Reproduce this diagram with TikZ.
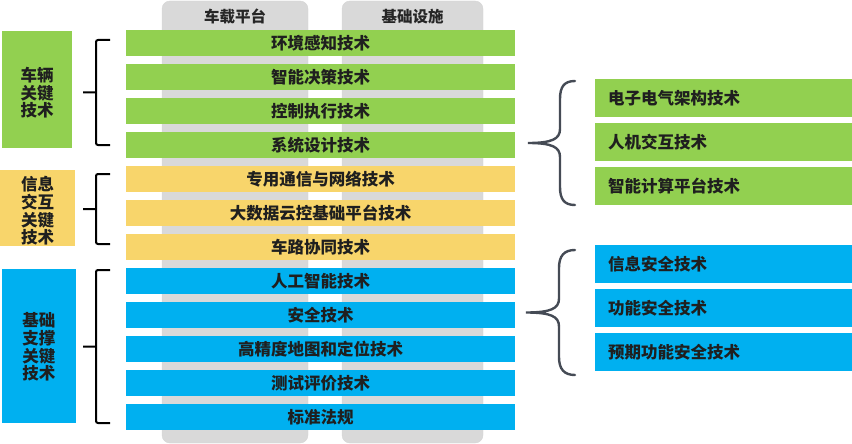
\documentclass[tikz,border=0pt]{standalone}
\usepackage{fontspec}
\setmainfont{Noto Sans CJK SC}
\definecolor{barGreen}{HTML}{92D050}
\definecolor{barYellow}{HTML}{F8D56B}
\definecolor{barBlue}{HTML}{00B0F0}
\definecolor{colGray}{HTML}{D9D9D9}
\definecolor{braceGray}{HTML}{454B55}
\tikzset{
  bar/.style={minimum width=389pt,minimum height=26pt,inner sep=0pt,text=black!88,font=\bfseries\fontsize{16.5}{17}\selectfont},
  sidebox/.style={inner sep=0pt,align=center,text=black!88,font=\bfseries\fontsize{16.5}{17.6}\selectfont},
  rbox/.style={anchor=west,minimum height=38pt,inner xsep=13pt,inner ysep=0pt,text width=231pt,align=left,text=black!88,font=\bfseries\fontsize{16.5}{17}\selectfont},
  head/.style={text=black!85,font=\bfseries\fontsize{15.5}{16}\selectfont}
}
\begin{document}
\begin{tikzpicture}[x=1pt,y=-1pt]
		\useasboundingbox (0,0) rectangle (852,444);
		% columns
		\draw[colGray!85!black!60,fill=colGray,rounded corners=8pt] (162,1) rectangle (308,443);
		\draw[colGray!85!black!60,fill=colGray,rounded corners=8pt] (342,1) rectangle (483,443);
		\node[head] (hvehicle) at (235,17) {车载平台};
		\node[head] (hinfra) at (412.5,17) {基础设施};
		% middle bars
		\foreach \lbl [count=\i] in {环境感知技术,智能决策技术,控制执行技术,系统设计技术}
		  \node[bar,fill=barGreen] (m\i) at (320.5,{43.5+33.95*(\i-1)}) {\lbl};
		\foreach \lbl [count=\i from 5] in {专用通信与网络技术,大数据云控基础平台技术,车路协同技术}
		  \node[bar,fill=barYellow] (m\i) at (320.5,{43.5+33.95*(\i-1)}) {\lbl};
		\foreach \lbl [count=\i from 8] in {人工智能技术,安全技术,高精度地图和定位技术,测试评价技术,标准法规}
		  \node[bar,fill=barBlue] (m\i) at (320.5,{43.5+33.95*(\i-1)}) {\lbl};
		% left groups
		\fill[barGreen] (2,31) rectangle (72,148);
		\node[sidebox] (gvehicle) at (37,93) {车辆\\关键\\技术};
		\fill[barYellow] (0,170) rectangle (75,246);
		\node[sidebox] (ginfo) at (37.5,211) {信息\\交互\\关键\\技术};
		\fill[barBlue] (2,269) rectangle (76,423);
		\node[sidebox] (gbase) at (39,347) {基础\\支撑\\关键\\技术};
		\foreach \t/\b in {40/145,174/244,270/423}
		  \draw[line width=2pt,rounded corners=2pt] (110,\t)--(96,\t)--(96,\b)--(110,\b) (83,{(\t+\b)/2})--(96,{(\t+\b)/2});
		% right groups
		\foreach \lbl [count=\i] in {电子电气架构技术,人机交互技术,智能计算平台技术}
		  \node[rbox,fill=barGreen] (r\i) at (595,{98+44*(\i-1)}) {\lbl};
		\foreach \lbl [count=\i from 4] in {信息安全技术,功能安全技术,预期功能安全技术}
		  \node[rbox,fill=barBlue] (r\i) at (595,{264+44*(\i-4)}) {\lbl};
		\foreach \t/\b/\x/\tip in {81/205/560/528,250/375/559/526}
		  \draw[braceGray,line width=2.4pt,line cap=round]
		    (575,\t) .. controls (564,\t) and (\x,\t+6) .. (\x,\t+18) -- (\x,{(\t+\b)/2-14})
		    .. controls (\x,{(\t+\b)/2-4}) and (\x-8,{(\t+\b)/2}) .. (\tip,{(\t+\b)/2})
		    .. controls (\x-8,{(\t+\b)/2}) and (\x,{(\t+\b)/2+4}) .. (\x,{(\t+\b)/2+14})
		    -- (\x,\b-18) .. controls (\x,\b-6) and (564,\b) .. (575,\b);
		%\draw[ultra thin,cyan](0,0)grid[step=20](852,444);
\end{tikzpicture}
\end{document}
